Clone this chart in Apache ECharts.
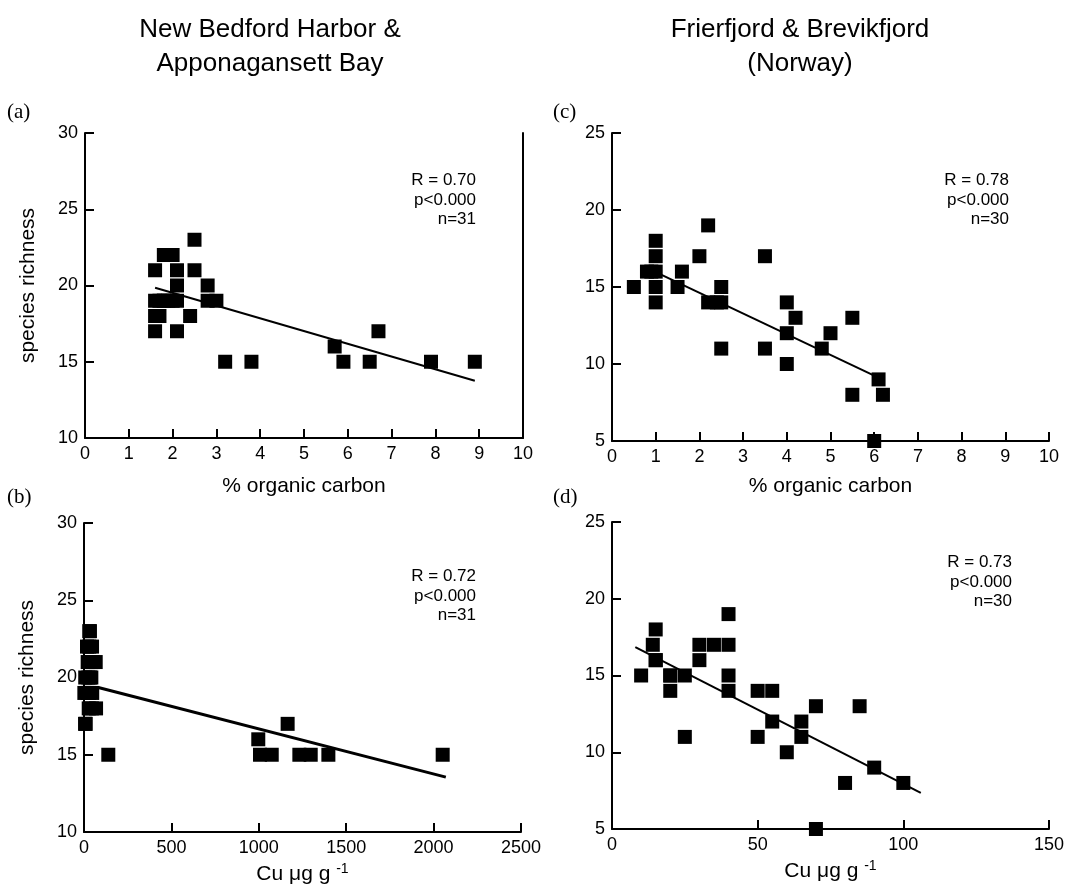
<!DOCTYPE html>
<html>
<head>
<meta charset="utf-8">
<style>
  html, body { margin: 0; padding: 0; background: #fff; }
  #chart { width: 1067px; height: 887px; }
</style>
<script src="https://cdn.jsdelivr.net/npm/echarts@6/dist/echarts.min.js"></script>
</head>
<body>
<div id="chart"></div>
<script>
// (a) New Bedford Harbor & Apponagansett Bay: % organic carbon
const carbonA = [1.6, 1.6, 1.6, 1.6, 1.7, 1.7, 1.8, 1.9, 2.0, 2.1, 2.1, 2.1, 1.9, 2.1, 2.4, 2.5, 2.5, 2.8, 2.8, 3.0, 3.2, 3.8, 5.7, 5.9, 6.5, 6.7, 7.9, 8.9, 1.8, 2.0, 1.8];
const richA   = [21, 19, 18, 17, 18, 19, 22, 22, 22, 21, 20, 19, 19, 17, 18, 23, 21, 20, 19, 19, 15, 15, 16, 15, 15, 17, 15, 15, 19, 19, 19];
const fitAx = [1.6, 8.9];
const fitAy = [19.85, 13.75];

// (b) New Bedford Harbor & Apponagansett Bay: Cu ug/g
const cuB   = [34, 17, 46, 21, 67, 7, 42, 2, 47, 27, 69, 6, 139, 997, 1165, 1007, 1074, 1232, 1297, 1398, 2052, 30, 40, 25, 20, 45, 10, 30, 35, 30, 50];
const richB = [23, 22, 22, 21, 21, 20, 20, 19, 19, 18, 18, 17, 15, 16, 17, 15, 15, 15, 15, 15, 15, 22, 21, 20, 19, 18, 17, 23, 20, 19, 21];
const fitBx = [82, 2070];
const fitBy = [19.35, 13.55];

// (c) Frierfjord & Brevikfjord: % organic carbon
const carbonC = [0.5, 0.8, 1.0, 1.0, 1.0, 1.0, 1.0, 1.5, 1.6, 2.0, 2.2, 2.2, 2.4, 2.5, 2.5, 2.5, 3.5, 3.5, 4.0, 4.0, 4.0, 4.2, 4.8, 5.0, 5.5, 5.5, 6.1, 6.2, 6.0, 0.9];
const richC   = [15, 16, 16, 18, 17, 15, 14, 15, 16, 17, 19, 14, 14, 14, 15, 11, 17, 11, 14, 12, 10, 13, 11, 12, 13, 8, 9, 8, 5, 16];
const fitCx = [1.05, 6.0];
const fitCy = [15.9, 9.25];

// (d) Frierfjord & Brevikfjord: Cu ug/g
const cuD   = [10, 14, 15, 15, 20, 20, 25, 25, 30, 30, 35, 40, 40, 40, 40, 50, 55, 50, 55, 60, 65, 65, 70, 85, 90, 100, 80, 70, 20, 15];
const richD = [15, 17, 18, 16, 15, 14, 15, 11, 17, 16, 17, 17, 19, 15, 14, 14, 14, 11, 12, 10, 12, 11, 13, 13, 9, 8, 8, 5, 15, 16];
const fitDx = [8, 106];
const fitDy = [16.85, 7.35];

const statsA = ['R = 0.70', 'p<0.000', 'n=31'];
const statsB = ['R = 0.72', 'p<0.000', 'n=31'];
const statsC = ['R = 0.78', 'p<0.000', 'n=30'];
const statsD = ['R = 0.73', 'p<0.000', 'n=30'];

const font = 'Liberation Sans, Arial, Helvetica, sans-serif';
const zip = (xs, ys) => xs.map((x, i) => [x, ys[i]]);

const axisLine = { show: true, onZero: false, lineStyle: { color: '#000', width: 2 } };
const axisTick = { show: true, inside: true, length: 9, lineStyle: { color: '#000', width: 2 } };
const axisLabel = { color: '#000', fontSize: 18, fontFamily: font, margin: 7, formatter: v => String(v) };
const nameStyle = { color: '#000', fontSize: 21, fontFamily: font };

function xAx(grid, min, max, interval, name, gap) {
  return {
    type: 'value', gridIndex: grid, min: min, max: max, interval: interval,
    name: name, nameLocation: 'middle', nameGap: gap, nameTextStyle: Object.assign({}, nameStyle, {
      rich: { a: { fontSize: 21, fontFamily: font, color: '#000' },
              b: { fontSize: 14, fontFamily: font, color: '#000', verticalAlign: 'top', padding: [0, 0, 10, 0] } }
    }),
    axisLine: axisLine, axisTick: axisTick, axisLabel: axisLabel, splitLine: { show: false }
  };
}
function yAx(grid, min, max, name) {
  return {
    type: 'value', gridIndex: grid, min: min, max: max, interval: 5,
    name: name, nameLocation: 'middle', nameGap: 46, nameTextStyle: nameStyle,
    axisLine: axisLine, axisTick: axisTick, axisLabel: axisLabel, splitLine: { show: false }
  };
}
function dots(i, data) {
  return { type: 'scatter', xAxisIndex: i, yAxisIndex: i, data: data, symbol: 'rect',
    symbolSize: 14, clip: false, itemStyle: { color: '#000', opacity: 1 }, silent: true };
}
function fit(i, data, w) {
  return { type: 'line', xAxisIndex: i, yAxisIndex: i, data: data, symbol: 'none', z: 3,
    lineStyle: { color: '#000', width: w }, silent: true };
}
function statText(x, y, lines) {
  return { type: 'text', x: x, y: y, style: { text: lines.join('\n'), fill: '#000',
    font: '17px ' + font, textAlign: 'right', lineHeight: 19.5 } };
}
function heading(x, y, t) {
  return { type: 'text', x: x, y: y, style: { text: t, fill: '#000',
    font: '26px ' + font, textAlign: 'center', textVerticalAlign: 'middle' } };
}
function tag(x, y, t) {
  return { type: 'text', x: x, y: y, style: { text: t, fill: '#000',
    font: '21px Liberation Serif, Times New Roman, serif', textVerticalAlign: 'middle' } };
}

const chart = echarts.init(document.getElementById('chart'));
chart.setOption({
  backgroundColor: '#fff',
  animation: false,
  grid: [
    { left: 85, top: 133, width: 438, height: 305 },
    { left: 84, top: 523, width: 437, height: 309 },
    { left: 612, top: 133, width: 437, height: 308 },
    { left: 612, top: 522, width: 437, height: 307 }
  ],
  xAxis: [
    xAx(0, 0, 10, 1, '% organic carbon', 38),
    xAx(1, 0, 2500, 500, '{a|Cu \u03bcg g }{b|-1}', 30),
    xAx(2, 0, 10, 1, '% organic carbon', 35),
    xAx(3, 0, 150, 50, '{a|Cu \u03bcg g }{b|-1}', 30)
  ],
  yAxis: [
    yAx(0, 10, 30, 'species richness'),
    yAx(1, 10, 30, 'species richness'),
    yAx(2, 5, 25, ''),
    yAx(3, 5, 25, ''),
    // right frame line of panel (a)
    { type: 'value', gridIndex: 0, position: 'right', min: 10, max: 30,
      axisLine: axisLine, axisTick: { show: false }, axisLabel: { show: false }, splitLine: { show: false } }
  ],
  series: [
    dots(0, zip(carbonA, richA)), fit(0, zip(fitAx, fitAy), 2),
    dots(1, zip(cuB, richB)), fit(1, zip(fitBx, fitBy), 3),
    dots(2, zip(carbonC, richC)), fit(2, zip(fitCx, fitCy), 2),
    dots(3, zip(cuD, richD)), fit(3, zip(fitDx, fitDy), 2)
  ],
  graphic: [
    heading(270, 30, 'New Bedford Harbor &'),
    heading(270, 64, 'Apponagansett Bay'),
    heading(800, 30, 'Frierfjord & Brevikfjord'),
    heading(800, 64, '(Norway)'),
    tag(7, 112, '(a)'), tag(7, 497, '(b)'),
    tag(553, 112, '(c)'), tag(553, 497, '(d)'),
    statText(476, 171, statsA),
    statText(476, 567, statsB),
    statText(1009, 171, statsC),
    statText(1012, 553, statsD)
  ]
});
</script>
</body>
</html>
